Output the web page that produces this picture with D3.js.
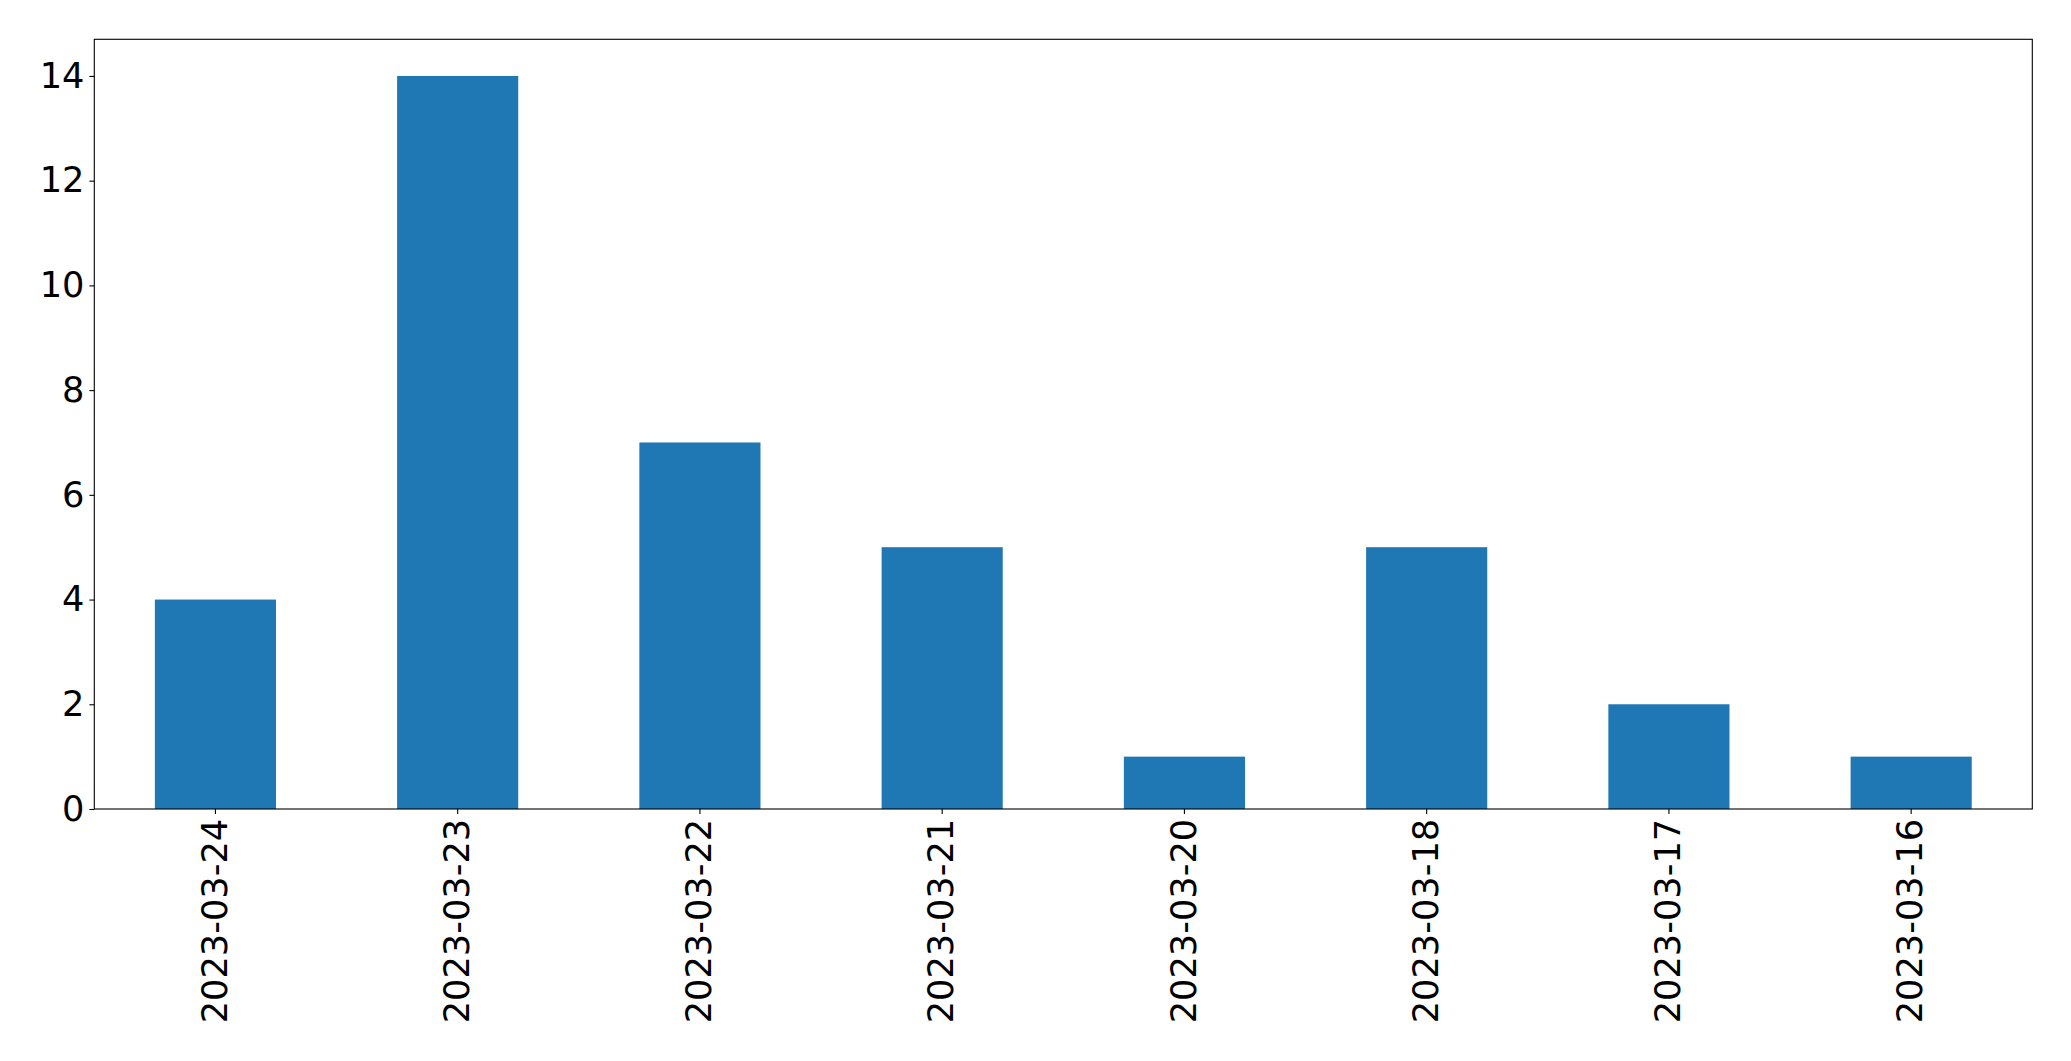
<!DOCTYPE html>
<html>
<head>
<meta charset="utf-8">
<script src="https://cdn.jsdelivr.net/npm/d3@7"></script>
<style>
  html, body { margin: 0; padding: 0; background: #fff; }
  svg { display: block; }
  text { font-family: "DejaVu Sans", sans-serif; fill: #000; }
</style>
</head>
<body>
<svg id="chart" width="2071" height="1061"></svg>
<script>
const categories = ["2023-03-24", "2023-03-23", "2023-03-22", "2023-03-21", "2023-03-20", "2023-03-18", "2023-03-17", "2023-03-16"];
const values = [4, 14, 7, 5, 1, 5, 2, 1];
const yTicks = [0, 2, 4, 6, 8, 10, 12, 14];

const W = 2071, H = 1061;
const m = { left: 94.3, right: W - 2032.3, top: 39.3, bottom: H - 809 };
const iw = W - m.left - m.right, ih = H - m.top - m.bottom;
const fontSize = 35.2;

const svg = d3.select("#chart");
const g = svg.append("g").attr("transform", `translate(${m.left},${m.top})`);

const xi = d3.scaleLinear().domain([-0.5, categories.length - 0.5]).range([0, iw]);
const y = d3.scaleLinear().domain([0, d3.max(values) * 1.05]).range([ih, 0]);
const barW = 0.5;

g.selectAll("rect.bar").data(values).join("rect")
  .attr("class", "bar")
  .attr("x", (d, i) => xi(i - barW / 2))
  .attr("width", (d, i) => xi(i + barW / 2) - xi(i - barW / 2))
  .attr("y", d => y(d))
  .attr("height", d => ih - y(d))
  .attr("fill", "#1f77b4");

const yAxis = d3.axisLeft(y).tickValues(yTicks).tickFormat(d3.format("d")).tickSize(4.9).tickPadding(4.9);
const yg = g.append("g").call(yAxis);
yg.select(".domain").remove();
yg.selectAll(".tick line").attr("stroke", "#000").attr("stroke-width", 1.1);
yg.selectAll(".tick text").attr("font-size", fontSize).attr("font-family", "DejaVu Sans, sans-serif").attr("fill", "#000");

const xg = g.append("g").attr("transform", `translate(0,${ih})`);
const xt = xg.selectAll("g.tick").data(categories).join("g")
  .attr("class", "tick")
  .attr("transform", (d, i) => `translate(${xi(i)},0)`);
xt.append("line").attr("y2", 4.9).attr("stroke", "#000").attr("stroke-width", 1.1);
xt.append("text")
  .attr("transform", "translate(0,9.8) rotate(-90)")
  .attr("text-anchor", "end")
  .attr("dy", "0.32em")
  .attr("font-size", fontSize)
  .text(d => d);

g.append("rect")
  .attr("x", 0).attr("y", 0).attr("width", iw).attr("height", ih)
  .attr("fill", "none").attr("stroke", "#000").attr("stroke-width", 1.1);
</script>
</body>
</html>
